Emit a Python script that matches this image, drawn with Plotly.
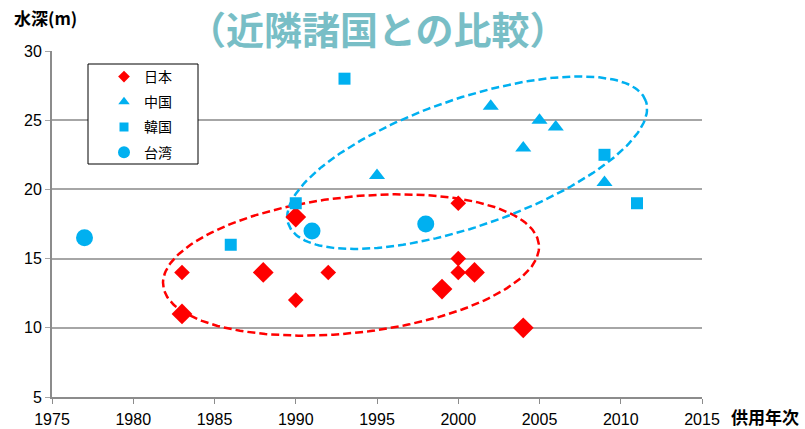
import numpy as np
import plotly.graph_objects as go

# ---- data ----
japan_year = [1983, 1983, 1988, 1990, 1990, 1992, 1999, 2000, 2000, 2000, 2001, 2004]
japan_depth = [14, 11, 14, 18, 12, 14, 12.8, 19, 15, 14, 14, 10]
japan_size = [12, 16, 16, 16, 12, 12, 16, 12, 12, 12, 16, 16]

china_year = [1995, 2002, 2004, 2005, 2006, 2009]
china_depth = [21, 26, 23, 25, 24.5, 20.5]

korea_year = [1986, 1990, 1993, 2009, 2011]
korea_depth = [16, 19, 28, 22.5, 19]

taiwan_year = [1977, 1991, 1998]
taiwan_depth = [16.5, 17, 17.5]

x_ticks = [1975, 1980, 1985, 1990, 1995, 2000, 2005, 2010, 2015]
y_ticks = [5, 10, 15, 20, 25, 30]

RED = "#FF0000"
BLUE = "#00B0F0"
JP = "Noto Sans CJK JP"
NUM = "Liberation Sans, sans-serif"

# plot geometry (pixels) used for drawing ellipses in screen space
L, R, T, B = 52, 103, 51, 32
W, H = 805, 429
PW, PH = W - L - R, H - T - B
px_per_x = PW / (2015 - 1975)
px_per_y = PH / (30 - 5)


def px2paper(px, py):
    return (px - L) / PW, (H - B - py) / PH


def ellipse(cx, cy, a, b, theta_deg, n=200):
    t = np.linspace(0, 2 * np.pi, n)
    th = np.deg2rad(theta_deg)
    dx = a * np.cos(t) * np.cos(th) - b * np.sin(t) * np.sin(th)
    dy = a * np.cos(t) * np.sin(th) + b * np.sin(t) * np.cos(th)
    return cx + dx / px_per_x, cy + dy / px_per_y


fig = go.Figure()

ex, ey = ellipse(1993.4, 14.54, 189, 68, 6.3)
fig.add_trace(go.Scatter(x=ex, y=ey, mode="lines", showlegend=False, hoverinfo="skip",
                         line=dict(color=RED, width=2.5, dash="8px,4px")))
ex, ey = ellipse(2000.55, 21.93, 189, 64, 19)
fig.add_trace(go.Scatter(x=ex, y=ey, mode="lines", showlegend=False, hoverinfo="skip",
                         line=dict(color=BLUE, width=2.5, dash="8px,4px")))

series = [
    ("日本", japan_year, japan_depth, "diamond", RED, japan_size, 9),
    ("中国", china_year, china_depth, "triangle-up", BLUE, 14, 10),
    ("韓国", korea_year, korea_depth, "square", BLUE, 12, 9),
    ("台湾", taiwan_year, taiwan_depth, "circle", BLUE, 17, 12),
]
for name, xs, ys, sym, col, size, lsize in series:
    fig.add_trace(go.Scatter(x=xs, y=ys, mode="markers", name=name, showlegend=False,
                             marker=dict(symbol=sym, color=col, size=size,
                                         opacity=1, line=dict(width=0))))
    # legend proxy (smaller marker, as in the reference legend)
    fig.add_trace(go.Scatter(x=[None], y=[None], mode="markers", name=name,
                             legendgroup=name,
                             marker=dict(symbol=sym, color=col, size=lsize,
                                         line=dict(width=0))))

x0, y0 = px2paper(88, 64)
x1, y1 = px2paper(198, 164)
lx, ly = px2paper(104, 61)
fig.add_shape(type="rect", xref="paper", yref="paper", x0=x0, y0=y1, x1=x1, y1=y0,
              line=dict(color="black", width=1), fillcolor="white", layer="above")

ax1, ay1 = px2paper(12, 18)
ax2, ay2 = px2paper(729, 416)
tx, ty = px2paper(378, 28)

fig.update_layout(
    width=W, height=H,
    margin=dict(l=L, r=R, t=T, b=B),
    paper_bgcolor="white", plot_bgcolor="white",
    font=dict(family=JP, size=14, color="black"),
    legend=dict(x=lx, y=ly, xanchor="left", yanchor="top",
                borderwidth=0, bgcolor="rgba(0,0,0,0)",
                font=dict(family=JP, size=14), itemsizing="trace",
                tracegroupgap=4),
    xaxis=dict(range=[1975, 2015], tickvals=x_ticks, showgrid=False,
               showline=True, linecolor="#8c8c8c", linewidth=2,
               ticks="outside", ticklen=5, tickcolor="#8c8c8c",
               ticklabelstandoff=2, automargin=False,
               tickfont=dict(family=NUM, size=16), zeroline=False),
    yaxis=dict(range=[5, 30], tickvals=y_ticks, showgrid=True,
               gridcolor="#a6a6a6", gridwidth=1.5,
               showline=True, linecolor="#8c8c8c", linewidth=2,
               ticks="outside", ticklen=5, tickcolor="#a6a6a6",
               automargin=False,
               tickfont=dict(family=NUM, size=16), zeroline=False),
    annotations=[
        dict(text="<b>水深(m)</b>", xref="paper", yref="paper", x=ax1, y=ay1,
             xanchor="left", yanchor="middle", showarrow=False,
             font=dict(family=JP, size=17, color="black")),
        dict(text="<b>供用年次</b>", xref="paper", yref="paper", x=ax2, y=ay2,
             xanchor="left", yanchor="middle", showarrow=False,
             font=dict(family=JP, size=17, color="black")),
        dict(text="<b>（近隣諸国との比較）</b>", xref="paper", yref="paper",
             x=tx, y=ty, yanchor="middle", xanchor="center", showarrow=False,
             font=dict(family=JP, size=38, color="#78BEC6")),
    ],
)
fig.write_html("out.html")
